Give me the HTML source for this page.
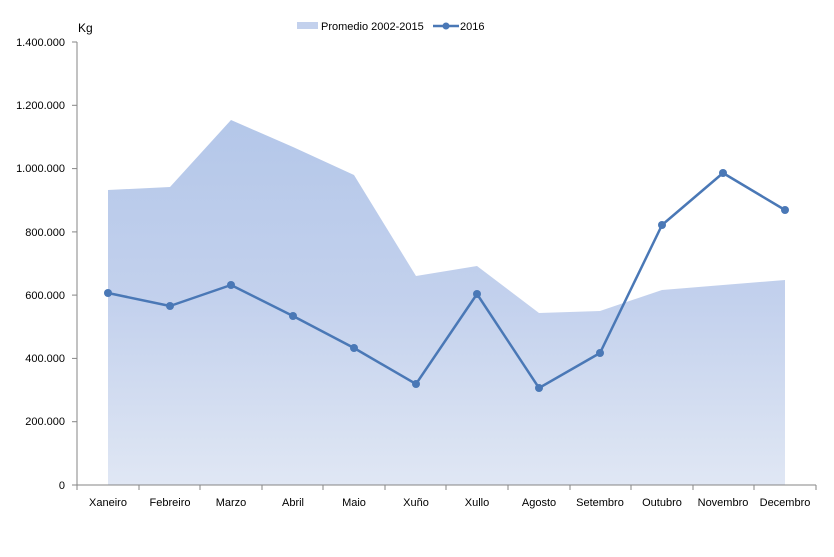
<!DOCTYPE html>
<html><head><meta charset="utf-8"><style>body{margin:0;background:#fff}svg{display:block}text{font-family:"Liberation Sans",sans-serif;font-size:11px;fill:#000}</style></head><body>
<svg width="834" height="557" viewBox="0 0 834 557">
<defs><linearGradient id="g" x1="0" y1="0" x2="0" y2="1" gradientUnits="userSpaceOnUse"><stop offset="0" stop-color="#b4c7e9" y="120"/><stop offset="1" stop-color="#dfe6f4"/></linearGradient>
<linearGradient id="g2" x1="0" y1="120" x2="0" y2="485" gradientUnits="userSpaceOnUse"><stop offset="0" stop-color="#b4c7e9"/><stop offset="0.5" stop-color="#c3d1ed"/><stop offset="1" stop-color="#e0e7f4"/></linearGradient></defs>
<polygon fill="url(#g2)" points="108,485 108,190 170,187 231,120 293,147 354,175 416,276 477,266 539,313 600,311 662,290 723,285 785,280 785,485"/>
<g stroke="#868686" stroke-width="1" fill="none">
<line x1="77" y1="42" x2="77" y2="485"/>
<line x1="77" y1="485" x2="816" y2="485"/>
<line x1="72" y1="42" x2="77" y2="42"/><line x1="72" y1="105.3" x2="77" y2="105.3"/><line x1="72" y1="168.6" x2="77" y2="168.6"/><line x1="72" y1="231.9" x2="77" y2="231.9"/><line x1="72" y1="295.1" x2="77" y2="295.1"/><line x1="72" y1="358.4" x2="77" y2="358.4"/><line x1="72" y1="421.7" x2="77" y2="421.7"/><line x1="72" y1="485" x2="77" y2="485"/>
<path d="M77 485v5M139 485v5M200 485v5M262 485v5M323 485v5M385 485v5M446 485v5M508 485v5M570 485v5M631 485v5M693 485v5M754 485v5M816 485v5"/>
</g>
<g text-anchor="end">
<text x="65" y="46">1.400.000</text><text x="65" y="109">1.200.000</text><text x="65" y="172">1.000.000</text><text x="65" y="236">800.000</text><text x="65" y="299">600.000</text><text x="65" y="362">400.000</text><text x="65" y="425">200.000</text><text x="65" y="489">0</text>
</g>
<text x="78" y="32" style="font-size:12px">Kg</text>
<g text-anchor="middle">
<text x="108" y="506">Xaneiro</text><text x="170" y="506">Febreiro</text><text x="231" y="506">Marzo</text><text x="293" y="506">Abril</text><text x="354" y="506">Maio</text><text x="416" y="506">Xuño</text><text x="477" y="506">Xullo</text><text x="539" y="506">Agosto</text><text x="600" y="506">Setembro</text><text x="662" y="506">Outubro</text><text x="723" y="506">Novembro</text><text x="785" y="506">Decembro</text>
</g>
<polyline fill="none" stroke="#4a78b6" stroke-width="2.5" stroke-linejoin="round" points="108,293 170,306 231,285 293,316 354,348 416,384 477,294 539,388 600,353 662,225 723,173 785,210"/>
<g fill="#4a78b6">
<circle cx="108" cy="293" r="4"/><circle cx="170" cy="306" r="4"/><circle cx="231" cy="285" r="4"/><circle cx="293" cy="316" r="4"/><circle cx="354" cy="348" r="4"/><circle cx="416" cy="384" r="4"/><circle cx="477" cy="294" r="4"/><circle cx="539" cy="388" r="4"/><circle cx="600" cy="353" r="4"/><circle cx="662" cy="225" r="4"/><circle cx="723" cy="173" r="4"/><circle cx="785" cy="210" r="4"/>
</g>
<rect x="297" y="22" width="21" height="7" fill="#c3d1ed"/>
<text x="321" y="30">Promedio 2002-2015</text>
<line x1="433" y1="26" x2="459" y2="26" stroke="#4a78b6" stroke-width="2.5"/>
<circle cx="446" cy="26" r="3.5" fill="#4a78b6"/>
<text x="460" y="30">2016</text>
</svg>
</body></html>
